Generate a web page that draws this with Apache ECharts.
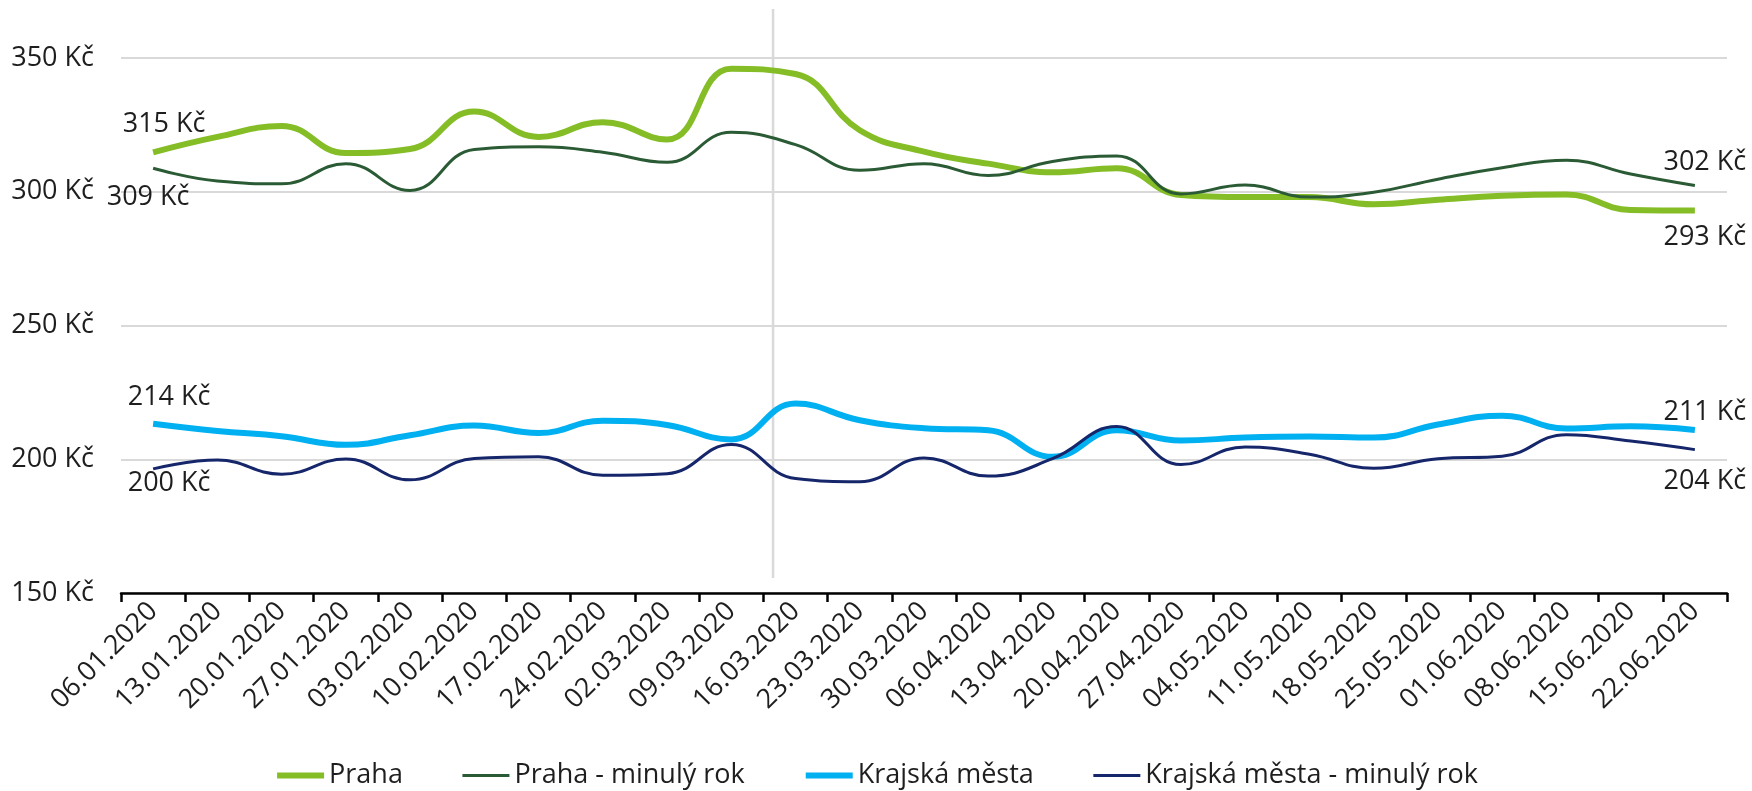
<!DOCTYPE html>
<html>
<head>
<meta charset="utf-8">
<script src="https://cdn.jsdelivr.net/npm/echarts@6/dist/echarts.min.js"></script>
<style>
  html, body { margin: 0; padding: 0; background: #ffffff; }
  #chart { width: 1752px; height: 791px; }
</style>
</head>
<body>
<div id="chart"></div>
<script>
const categories = ['06.01.2020','13.01.2020','20.01.2020','27.01.2020','03.02.2020','10.02.2020','17.02.2020','24.02.2020','02.03.2020','09.03.2020','16.03.2020','23.03.2020','30.03.2020','06.04.2020','13.04.2020','20.04.2020','27.04.2020','04.05.2020','11.05.2020','18.05.2020','25.05.2020','01.06.2020','08.06.2020','15.06.2020','22.06.2020'];

const seriesNames = ['Praha', 'Praha - minulý rok', 'Krajská města', 'Krajská města - minulý rok'];

const praha = [314.7, 320.5, 324.6, 314.5, 316.0, 330.0, 320.5, 326.0, 319.5, 346.0, 344.0, 323.0, 315.0, 310.5, 307.3, 308.8, 298.8, 298.0, 298.0, 295.3, 297.0, 298.5, 299.0, 293.2, 293.0];
const prahaMinulyRok = [308.8, 304.0, 303.0, 310.5, 300.5, 315.8, 316.8, 314.8, 311.0, 322.2, 317.6, 308.0, 310.5, 306.1, 311.3, 313.4, 299.2, 302.5, 298.0, 299.8, 304.7, 309.0, 311.8, 306.6, 302.3];
const krajskaMesta = [213.3, 210.6, 208.6, 205.4, 209.0, 212.6, 209.8, 214.4, 212.8, 207.4, 220.8, 214.6, 211.6, 210.8, 200.9, 210.8, 207.0, 208.1, 208.5, 208.1, 213.0, 216.3, 211.5, 212.3, 210.9];
const krajskaMinulyRok = [196.4, 199.7, 194.4, 200.1, 192.3, 200.3, 200.9, 194.0, 194.6, 205.5, 192.8, 191.6, 200.5, 193.7, 200.2, 212.2, 198.0, 204.6, 201.9, 196.6, 200.2, 201.1, 209.2, 206.8, 203.6];

const startLabels = ['315 Kč', '309 Kč', '214 Kč', '200 Kč'];
const endLabels = ['293 Kč', '302 Kč', '211 Kč', '204 Kč'];

const yTicks = [150, 200, 250, 300, 350];

// position of the vertical marker line, in week (category index) units
const markerWeek = [9.65];

const allValues = [praha, prahaMinulyRok, krajskaMesta, krajskaMinulyRok];
const colors = ['#84BD26', '#2B5B35', '#00B0F0', '#16266B'];
const widths = [6, 3, 6, 3];
// label placement (px offsets from the point, for start / end labels)
const startOffsets = [[11, -28], [-5, 29], [16, -26], [16, 14]];
const endOffsets = [[10, 27], [10, -23], [10, -18], [10, 32]];

const FONT = '"Open Sans", "Noto Sans", sans-serif';
const TEXT = '#1e1e1e';
const FS = 27;

const chart = echarts.init(document.getElementById('chart'), null, { renderer: 'canvas' });

const lineSeries = allValues.map((vals, k) => ({
  name: seriesNames[k],
  type: 'line',
  xAxisIndex: 0,
  yAxisIndex: 0,
  data: vals,
  smooth: 0.45,
  symbol: 'none',
  color: colors[k],
  lineStyle: { color: colors[k], width: widths[k] },
  z: 3 + k,
  silent: true
}));

const labelStyle = {
  show: true,
  position: 'inside',
  color: TEXT,
  fontSize: FS,
  fontFamily: FONT,
  textBorderWidth: 0,
  textBorderColor: 'transparent',
  opacity: 1
};

const labelSeries = allValues.map((vals, k) => ({
  name: seriesNames[k] + ' popisky',
  type: 'scatter',
  xAxisIndex: 0,
  yAxisIndex: 0,
  symbol: 'circle',
  symbolSize: 1,
  itemStyle: { color: 'rgba(255,255,255,0)', opacity: 1 },
  silent: true,
  z: 10,
  data: [
    { value: [0, vals[0]], label: Object.assign({}, labelStyle, { offset: startOffsets[k], formatter: startLabels[k] }) },
    { value: [vals.length - 1, vals[vals.length - 1]], label: Object.assign({}, labelStyle, { offset: endOffsets[k], formatter: endLabels[k] }) }
  ],
  label: labelStyle
}));

const markerSeries = {
  name: 'marker',
  type: 'line',
  xAxisIndex: 1,
  yAxisIndex: 1,
  data: [[markerWeek[0], 0], [markerWeek[0], 1]],
  symbol: 'none',
  lineStyle: { color: '#D9D9D9', width: 2.5 },
  silent: true,
  z: 1
};

const option = {
  animation: false,
  backgroundColor: '#ffffff',
  textStyle: { fontFamily: FONT },
  grid: [
    { left: 121, right: 25, top: 58, bottom: 198 },
    { left: 121, right: 25, top: 9, bottom: 213 }
  ],
  legend: {
    data: seriesNames.map((n, k) => ({
      name: n,
      lineStyle: { width: widths[k], color: colors[k] },
      itemStyle: { opacity: 0 }
    })),
    left: 'center',
    top: 757,
    itemWidth: 47,
    itemHeight: 14,
    itemGap: 58,
    textStyle: { color: TEXT, fontSize: FS, fontFamily: FONT },
    selectedMode: false
  },
  xAxis: [
    {
      type: 'category',
      gridIndex: 0,
      data: categories,
      boundaryGap: true,
      axisLine: { show: true, lineStyle: { color: '#000000', width: 2.5 } },
      axisTick: { show: true, length: 9, lineStyle: { color: '#000000', width: 2.5 } },
      axisLabel: { interval: 0, rotate: 45, margin: 14, color: TEXT, fontSize: FS, fontFamily: FONT },
      splitLine: { show: false }
    },
    {
      type: 'value',
      gridIndex: 1,
      min: -0.5,
      max: categories.length - 0.5,
      show: false
    }
  ],
  yAxis: [
    {
      type: 'value',
      gridIndex: 0,
      min: yTicks[0],
      max: yTicks[yTicks.length - 1],
      interval: 50,
      axisLine: { show: false },
      axisTick: { show: false },
      axisLabel: { formatter: v => v + ' Kč', color: TEXT, fontSize: FS, fontFamily: FONT, margin: 27 },
      splitLine: { show: true, lineStyle: { color: '#D9D9D9', width: 2 } }
    },
    {
      type: 'value',
      gridIndex: 1,
      min: 0,
      max: 1,
      show: false
    }
  ],
  series: [markerSeries].concat(lineSeries, labelSeries)
};

chart.setOption(option);
</script>
</body>
</html>
